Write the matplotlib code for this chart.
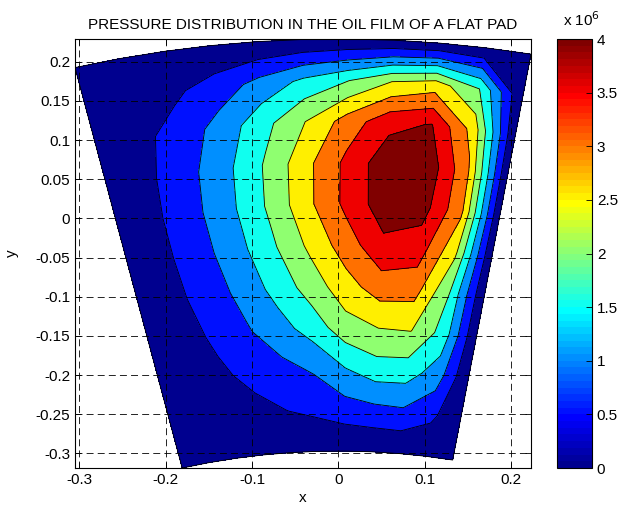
import numpy as np
import matplotlib
matplotlib.use('Agg')
import matplotlib.pyplot as plt
from matplotlib.colors import ListedColormap, Normalize
from matplotlib import cm

plt.rcParams['font.family'] = ['Liberation Sans', 'DejaVu Sans']
plt.rcParams['lines.scale_dashes'] = False

# pad grid: radius of the nodes and their angle from the vertical (deg)
r_nodes = [0.767, 0.820, 0.872, 0.925, 0.977, 1.030, 1.083, 1.135, 1.188, 1.240, 1.293]
theta_deg = [-13.65, -11.29, -8.93, -6.58, -4.22, -1.86, 0.50, 2.86, 5.21, 7.57, 9.93]
y_center = -1.064

# pressure at the nodes (x 1e6), rows = radius (inner -> outer), cols = angle
pressure = [
    [0, 0.00, 0.00, 0.00, 0.00, 0.00, 0.00, 0.00, 0.00, 0.00, 0],
    [0, 0.12, 0.24, 0.36, 0.49, 0.61, 0.77, 0.86, 0.91, 0.62, 0],
    [0, 0.21, 0.42, 0.63, 0.85, 1.06, 1.48, 1.77, 1.74, 1.25, 0],
    [0, 0.28, 0.58, 0.94, 1.31, 1.73, 2.30, 2.50, 2.52, 1.80, 0],
    [0, 0.35, 0.72, 1.14, 1.67, 2.23, 2.80, 3.25, 3.20, 2.00, 0],
    [0, 0.39, 0.81, 1.31, 1.93, 2.60, 3.26, 3.87, 3.75, 2.60, 0],
    [0, 0.41, 0.86, 1.41, 2.09, 2.89, 3.63, 4.29, 4.20, 3.10, 0],
    [0, 0.39, 0.83, 1.38, 2.07, 2.87, 3.63, 4.33, 4.35, 3.10, 0],
    [0, 0.35, 0.70, 1.19, 1.83, 2.50, 3.22, 3.85, 4.03, 2.80, 0],
    [0, 0.20, 0.40, 0.73, 1.16, 1.61, 1.98, 2.50, 2.75, 2.00, 0],
    [0, 0.00, 0.00, 0.00, 0.00, 0.00, 0.00, 0.00, 0.00, 0.00, 0],
]

levels = [0, 0.5, 1.0, 1.5, 2.0, 2.5, 3.0, 3.5, 4.0, 4.5]
xticks = [-0.3, -0.2, -0.1, 0, 0.1, 0.2]
xticklabels = ['-0.3', '-0.2', '-0.1', '0', '0.1', '0.2']
yticks = [-0.3, -0.25, -0.2, -0.15, -0.1, -0.05, 0, 0.05, 0.1, 0.15, 0.2]
yticklabels = ['-0.3', '-0.25', '-0.2', '-0.15', '-0.1', '-0.05', '0',
               '0.05', '0.1', '0.15', '0.2']
cbar_ticks = [0, 0.5, 1, 1.5, 2, 2.5, 3, 3.5, 4]
cbar_ticklabels = ['0', '0.5', '1', '1.5', '2', '2.5', '3', '3.5', '4']


def matlab_jet(n=64):
    # same construction as matlab's jet(n)
    m = int(np.ceil(n / 4.0))
    u = np.concatenate([np.arange(1, m + 1) / m, np.ones(m - 1), np.arange(m, 0, -1) / m])
    g = int(np.ceil(m / 2.0)) - (1 if n % 4 == 1 else 0) + np.arange(1, len(u) + 1)
    r = g + m
    b = g - m
    J = np.zeros((n, 3))
    for ch, idx in enumerate([r, g, b]):
        ok = (idx >= 1) & (idx <= n)
        J[idx[ok] - 1, ch] = u[ok]
    return J


jet = matlab_jet(64)
cmax = 4.0
fill_colors = [jet[min(int(v / cmax * 64), 63)] for v in levels[:-1]]

R, T = np.meshgrid(r_nodes, np.radians(theta_deg), indexing='ij')
X = R * np.sin(T)
Y = R * np.cos(T) + y_center
P = np.array(pressure) * 1e6
lev = np.array(levels) * 1e6

fs = 11
fig = plt.figure(figsize=(6.3, 5.11), dpi=100)
ax = fig.add_axes([75 / 630, 1 - 468 / 511, 456 / 630, 429 / 511])
ax.contourf(X, Y, P, levels=lev, colors=fill_colors)
ax.contour(X, Y, P, levels=lev[1:-1], colors='k', linewidths=0.6)

# outline of the pad
bx = np.concatenate([X[0, :], X[1:, -1], X[-1, -2::-1], X[-2::-1, 0]])
by = np.concatenate([Y[0, :], Y[1:, -1], Y[-1, -2::-1], Y[-2::-1, 0]])
ax.plot(bx, by, color='k', lw=0.6)

ax.set_xlim(X.min(), X.max())
ax.set_ylim(Y.min(), Y.max())
ax.set_xticks(xticks)
ax.set_xticklabels(xticklabels)
ax.set_yticks(yticks)
ax.set_yticklabels(yticklabels)
ax.tick_params(direction='in', length=4, top=True, right=True, labelsize=fs, width=0.6)
ax.set_axisbelow(False)
ax.grid(True, color='k', linestyle=(0, (5, 3)), linewidth=0.6)
for s in ax.spines.values():
    s.set_linewidth(0.8)
ax.set_xlabel('x', fontsize=fs, labelpad=3)
ax.set_ylabel('y', fontsize=fs, labelpad=12)
ax.set_title('PRESSURE DISTRIBUTION IN THE OIL FILM OF A FLAT PAD', fontsize=fs, pad=7)

cax = fig.add_axes([557 / 630, 1 - 468 / 511, 35 / 630, 429 / 511])
sm = cm.ScalarMappable(norm=Normalize(0, cmax * 1e6), cmap=ListedColormap(jet))
cb = fig.colorbar(sm, cax=cax)
cb.set_ticks(np.array(cbar_ticks) * 1e6)
cb.set_ticklabels(cbar_ticklabels)
cax.tick_params(direction='in', length=4, labelsize=fs, width=0.6)
cb.outline.set_linewidth(0.8)
fig.text(563 / 630, 1 - 26 / 511, 'x 10$^6$', fontsize=fs)

fig.savefig('out.png', dpi=100)
